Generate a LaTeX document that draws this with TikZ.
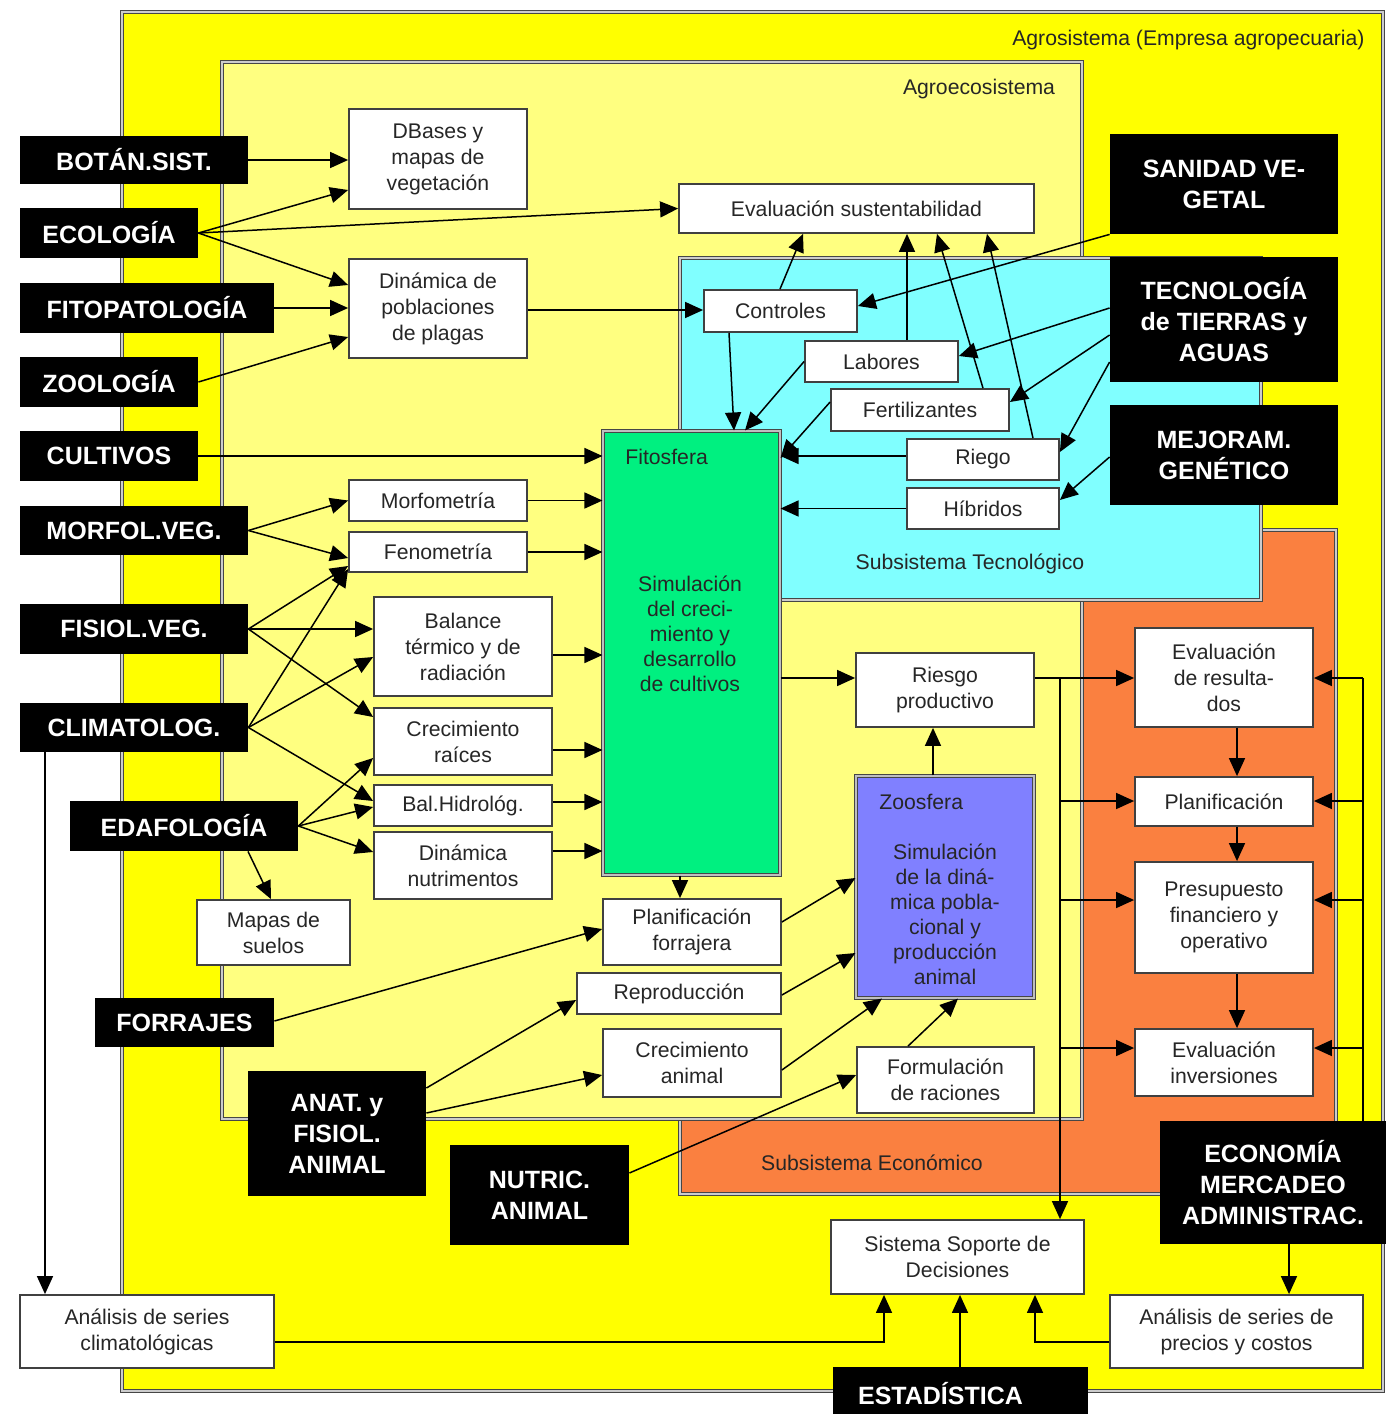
\documentclass[tikz,border=0pt]{standalone}
\usepackage{fontspec}
\setmainfont{Liberation Sans}
\usetikzlibrary{arrows.meta}

\definecolor{agroY}{RGB}{255,255,0}
\definecolor{ecoY}{RGB}{255,255,128}
\definecolor{tecC}{RGB}{128,255,255}
\definecolor{ecoO}{RGB}{250,128,64}
\definecolor{fitoG}{RGB}{0,240,128}
\definecolor{zooP}{RGB}{128,128,255}
\definecolor{frame}{RGB}{70,70,70}

% box given by its corners: style, name, x1, y1, x2, y2, text
\newcommand\pbox[7]{\node[#1, minimum width={(#5-#3)*0.5pt}, minimum height={(#6-#4)*0.5pt}] (#2) at ({(#3+#5)/2},{(#4+#6)/2}) {#7};}

\tikzset{
  wbox/.style={draw=black!75, line width=0.9pt, fill=white, inner sep=0pt, align=center,
    text=black!85, font=\fontsize{10.6pt}{13pt}\selectfont},
  bbox/.style={fill=black, inner sep=0pt, align=center, text=white,
    font=\bfseries\fontsize{12.5pt}{15.5pt}\selectfont},
  cont/.style={draw=frame, line width=0.55pt, double=black!20, double distance=1.3pt},
  sim/.style={draw=frame, line width=0.55pt, double=black!25, double distance=1.3pt, inner sep=0pt},
  arr/.style={draw=black, line width=0.75pt, -{Triangle[length=9pt,width=8pt]}},
  wire/.style={draw=black, line width=0.75pt},
  lbl/.style={font=\fontsize{10.6pt}{13pt}\selectfont, text=black!85, inner sep=0pt},
}

\begin{document}
\begin{tikzpicture}[x=0.5pt, y=-0.5pt]
\useasboundingbox (0,0) rectangle (1386,1414);

% ---- nested systems ----
\draw[cont, fill=agroY] (122,12) rectangle (1383,1391);
\draw[cont, fill=ecoO] (680,530) rectangle (1336,1194);
\draw[cont, fill=ecoY] (222,62) rectangle (1082,1119);
\draw[cont, fill=tecC] (680,258) rectangle (1261,600);

\node[lbl, anchor=east] (agrolbl) at (1365,40) {Agrosistema (Empresa agropecuaria)};
\node[lbl] (ecolbl) at (979,89) {Agroecosistema};
\node[lbl] (teclbl) at (970,564) {Subsistema Tecnológico};
\node[lbl] (econlbl) at (872,1163) {Subsistema Económico};

% ---- disciplines ----
\pbox{bbox}{botan}{20}{136}{248}{184}{BOTÁN.SIST.}
\pbox{bbox}{ecol}{20}{208}{198}{258}{ECOLOGÍA}
\pbox{bbox}{fitopat}{20}{283}{274}{333}{FITOPATOLOGÍA}
\pbox{bbox}{zool}{20}{357}{198}{407}{ZOOLOGÍA}
\pbox{bbox}{cult}{20}{431}{198}{481}{CULTIVOS}
\pbox{bbox}{morfol}{20}{506}{248}{555}{MORFOL.VEG.}
\pbox{bbox}{fisiol}{20}{604}{248}{654}{FISIOL.VEG.}
\pbox{bbox}{clim}{20}{703}{248}{752}{CLIMATOLOG.}
\pbox{bbox}{edaf}{70}{801}{298}{851}{EDAFOLOGÍA}
\pbox{bbox}{forr}{95}{998}{274}{1047}{FORRAJES}
\pbox{bbox}{anat}{248}{1071}{426}{1196}{ANAT. y\\FISIOL.\\ANIMAL}
\pbox{bbox}{nutric}{450}{1145}{629}{1245}{NUTRIC.\\ANIMAL}
\pbox{bbox}{estad}{833}{1367}{1088}{1420}{ESTADÍSTICA\hspace*{20pt}}
\pbox{bbox}{sanidad}{1110}{134}{1338}{234}{SANIDAD VE-\\GETAL}
\pbox{bbox}{tecno}{1110}{257}{1338}{382}{TECNOLOGÍA\\de TIERRAS y\\AGUAS}
\pbox{bbox}{mejor}{1110}{405}{1338}{505}{MEJORAM.\\GENÉTICO}
\pbox{bbox}{econ}{1160}{1121}{1386}{1244}{ECONOMÍA\\MERCADEO\\ADMINISTRAC.}

% ---- models and products ----
\pbox{wbox}{dbases}{349}{109}{527}{209}{DBases y\\mapas de\\vegetación}
\pbox{wbox}{plagas}{349}{259}{527}{358}{Dinámica de\\poblaciones\\de plagas}
\pbox{wbox}{evalsus}{679}{184}{1034}{233}{Evaluación sustentabilidad}
\pbox{wbox}{controles}{704}{290}{857}{332}{Controles}
\pbox{wbox}{labores}{805}{341}{958}{382}{Labores}
\pbox{wbox}{fert}{831}{389}{1009}{431}{Fertilizantes}
\pbox{wbox}{riego}{907}{439}{1059}{480}{Riego}
\pbox{wbox}{hibr}{907}{488}{1059}{529}{Híbridos}
\pbox{wbox}{morfo}{349}{480}{527}{521}{Morfometría}
\pbox{wbox}{feno}{349}{532}{527}{572}{Fenometría}
\pbox{wbox}{balance}{374}{597}{552}{696}{Balance\\térmico y de\\radiación}
\pbox{wbox}{raices}{374}{708}{552}{775}{Crecimiento\\raíces}
\pbox{wbox}{balhid}{374}{785}{552}{826}{Bal.Hidrológ.}
\pbox{wbox}{dinnut}{374}{832}{552}{899}{Dinámica\\nutrimentos}
\pbox{wbox}{mapas}{197}{900}{350}{965}{Mapas de\\suelos}
\pbox{wbox}{planforr}{603}{899}{781}{965}{Planificación\\forrajera}
\pbox{wbox}{repro}{577}{973}{781}{1014}{Reproducción}
\pbox{wbox}{crecan}{603}{1029}{781}{1097}{Crecimiento\\animal}
\pbox{wbox}{riesgo}{856}{653}{1034}{727}{Riesgo\\productivo}
\pbox{wbox}{formul}{857}{1047}{1034}{1113}{Formulación\\de raciones}
\pbox{wbox}{evalres}{1135}{628}{1313}{727}{Evaluación\\de resulta-\\dos}
\pbox{wbox}{planif}{1135}{777}{1313}{826}{Planificación}
\pbox{wbox}{presup}{1135}{862}{1313}{973}{Presupuesto\\financiero y\\operativo}
\pbox{wbox}{evalinv}{1135}{1029}{1313}{1096}{Evaluación\\inversiones}
\pbox{wbox}{soporte}{831}{1220}{1084}{1294}{Sistema Soporte de\\Decisiones}
\pbox{wbox}{anaclim}{20}{1295}{274}{1368}{Análisis de series\\climatológicas}
\pbox{wbox}{precios}{1110}{1295}{1363}{1368}{Análisis de series de\\precios y costos}

% ---- simulation models ----
\pbox{sim, fill=fitoG}{fito}{603}{431}{780}{875}{}
\node[lbl, anchor=west] (fitolbl) at (625,457) {Fitosfera};
\node[lbl, align=center, font=\fontsize{10.6pt}{12.5pt}\selectfont] (fitotxt) at (690,634)
  {Simulación\\del creci-\\miento y\\desarrollo\\de cultivos};
\pbox{sim, fill=zooP}{zoo}{856}{776}{1034}{998}{}
\node[lbl, anchor=west] (zoolbl) at (879,802) {Zoosfera};
\node[lbl, align=center, font=\fontsize{10.6pt}{12.5pt}\selectfont] (zootxt) at (945,914)
  {Simulación\\de la diná-\\mica pobla-\\cional y\\producción\\animal};

% ---- connectors: plant side ----
\draw[arr] (botan.east) -- (botan.east -| dbases.west);
\draw[arr] (ecol.east) -- (dbases.west |- 0,190);
\draw[arr] (ecol.east) -- (evalsus.west);
\draw[arr] (ecol.east) -- (plagas.west |- 0,285);
\draw[arr] (fitopat.east) -- (fitopat.east -| plagas.west);
\draw[arr] (zool.east) -- (plagas.west |- 0,337);
\draw[arr] (plagas.east |- 0,310) -- (controles.west |- 0,310);
\draw[arr] (cult.east) -- (cult.east -| fito.west);
\draw[arr] (morfol.east) -- (morfo.west);
\draw[arr] (morfol.east) -- (feno.west |- 0,558);
\draw[arr] (morfo.east) -- (morfo.east -| fito.west);
\draw[arr] (feno.east) -- (feno.east -| fito.west);
\draw[arr] (fisiol.east) -- (feno.west |- 0,566);
\draw[arr] (fisiol.east) -- (fisiol.east -| balance.west);
\draw[arr] (fisiol.east) -- (raices.west |- 0,717);
\draw[arr] (clim.east) -- (feno.west |- 0,569);
\draw[arr] (clim.east) -- (balance.west |- 0,657);
\draw[arr] (clim.east) -- (balhid.west |- 0,801);
\draw[arr] (balance.east |- 0,655) -- (fito.west |- 0,655);
\draw[arr] (raices.east |- 0,750) -- (fito.west |- 0,750);
\draw[arr] (balhid.east |- 0,802) -- (fito.west |- 0,802);
\draw[arr] (dinnut.east |- 0,851) -- (fito.west |- 0,851);
\draw[arr] (edaf.east) -- (raices.west |- 0,758);
\draw[arr] (edaf.east) -- (balhid.west |- 0,807);
\draw[arr] (edaf.east) -- (dinnut.west |- 0,852);
\draw[arr] (edaf.south -| 248,0) -- (mapas.north -| 271,0);
\draw[arr] (clim.south -| 45,0) -- (anaclim.north -| 45,0);

% ---- connectors: technology ----
\draw[arr] (controles.south -| 729,0) -- (fito.north -| 734,0);
\draw[arr] (labores.west) -- (fito.north -| 745,0);
\draw[arr] (fert.west |- 0,402) -- (fito.east |- 0,458);
\draw[arr] (riego.west |- 0,456) -- (fito.east |- 0,456);
\draw[arr] (hibr.west) -- (hibr.west -| fito.east);
\draw[arr] (controles.north -| 780,0) -- (evalsus.south -| 803,0);
\draw[arr] (labores.north -| 907,0) -- (evalsus.south -| 907,0);
\draw[arr] (fert.north -| 983,0) -- (evalsus.south -| 937,0);
\draw[arr] (riego.north -| 1033,0) -- (evalsus.south -| 987,0);
\draw[arr] (sanidad.south west) -- (controles.east |- 0,306);
\draw[arr] (tecno.west |- 0,308) -- (labores.east |- 0,356);
\draw[arr] (tecno.west |- 0,335) -- (fert.east |- 0,402);
\draw[arr] (tecno.west |- 0,362) -- (riego.east |- 0,452);
\draw[arr] (mejor.west |- 0,457) -- (hibr.east |- 0,500);

% ---- connectors: animal side ----
\draw[arr] (fito.south -| 680,0) -- (planforr.north -| 680,0);
\draw[arr] (forr.east |- 0,1021) -- (planforr.west |- 0,929);
\draw[arr] (anat.east |- 0,1088) -- (repro.west |- 0,1000);
\draw[arr] (anat.east |- 0,1113) -- (crecan.west |- 0,1075);
\draw[arr] (planforr.east |- 0,922) -- (zoo.west |- 0,878);
\draw[arr] (repro.east |- 0,995) -- (zoo.west |- 0,953);
\draw[arr] (crecan.east |- 0,1070) -- (zoo.south -| 882,0);
\draw[arr] (formul.north -| 908,0) -- (zoo.south -| 958,0);
\draw[arr] (nutric.east |- 0,1173) -- (formul.west |- 0,1075);
\draw[arr] (zoo.north -| 933,0) -- (riesgo.south -| 933,0);
\draw[arr] (fito.east |- 0,678) -- (riesgo.west |- 0,678);

% ---- connectors: economy ----
\coordinate (busL) at (1060,678);
\coordinate (busR) at (1363,678);
\draw[arr] (riesgo.east |- busL) -- (evalres.west |- busL);
\draw[arr] (busL) -- (soporte.north -| busL);
\draw[arr] (busL |- 0,801) -- (planif.west |- 0,801);
\draw[arr] (busL |- 0,900) -- (presup.west |- 0,900);
\draw[arr] (busL |- 0,1048) -- (evalinv.west |- 0,1048);
\draw[wire] (econ.north -| busR) -- (busR);
\draw[arr] (busR) -- (evalres.east |- busR);
\draw[arr] (busR |- 0,801) -- (planif.east |- 0,801);
\draw[arr] (busR |- 0,900) -- (presup.east |- 0,900);
\draw[arr] (busR |- 0,1048) -- (evalinv.east |- 0,1048);
\draw[arr] (evalres.south -| 1237,0) -- (planif.north -| 1237,0);
\draw[arr] (planif.south -| 1237,0) -- (presup.north -| 1237,0);
\draw[arr] (presup.south -| 1237,0) -- (evalinv.north -| 1237,0);

% ---- connectors: decision support ----
\draw[arr] (anaclim.east |- 0,1342) -| (soporte.south -| 884,0);
\draw[arr] (precios.west |- 0,1342) -| (soporte.south -| 1035,0);
\draw[arr] (estad.north -| 960,0) -- (soporte.south -| 960,0);
\draw[arr] (econ.south -| 1289,0) -- (precios.north -| 1289,0);
\end{tikzpicture}
\end{document}
